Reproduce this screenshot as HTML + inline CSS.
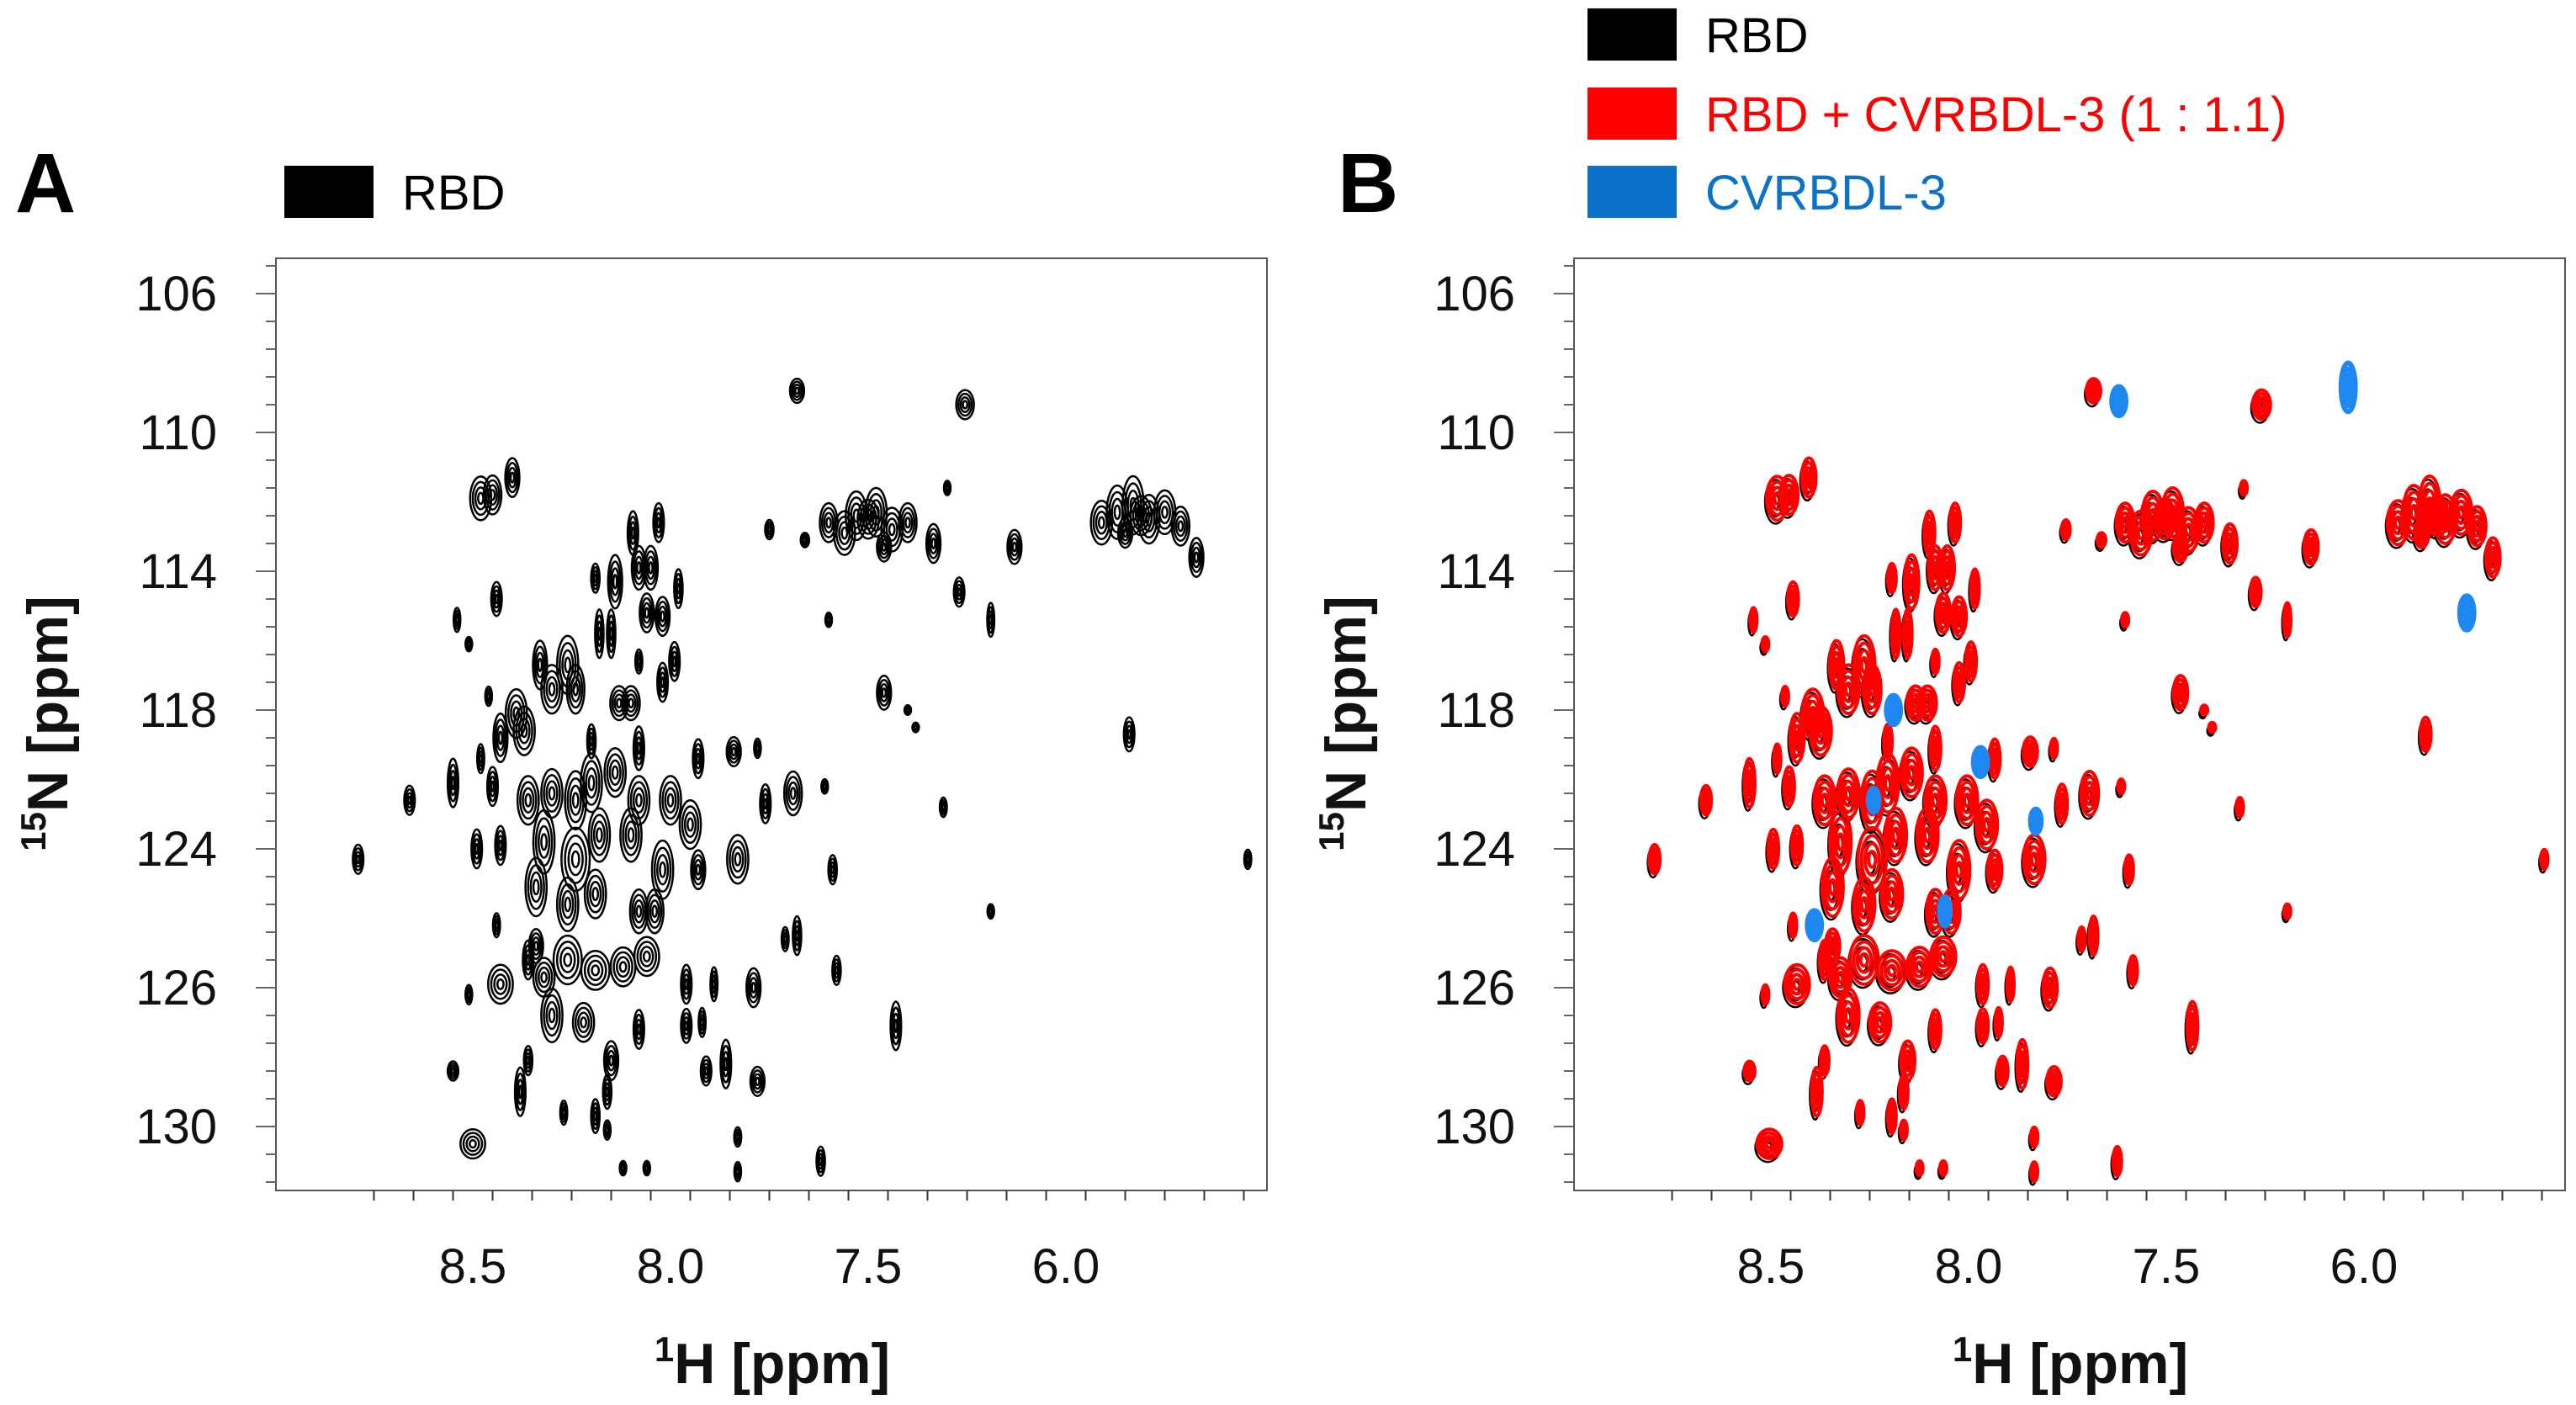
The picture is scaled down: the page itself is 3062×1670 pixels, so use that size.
<!DOCTYPE html>
<html><head><meta charset="utf-8"><style>
html,body{margin:0;padding:0;background:#fff;}
svg{display:block;font-family:"Liberation Sans",sans-serif;}
</style></head><body>
<svg id="chart" width="3062" height="1670" viewBox="0 0 3062 1670" xmlns="http://www.w3.org/2000/svg">
<g id="static"></g>
<g id="panelA"></g>
<g id="panelB"></g>
</svg>
<script>
// ---- data ----
const peakH = [7.68,7.255,7.5,6.81,6.67,7.335,7.13,7.75,7.66,7.27,7.19,7.6,7.3,7.46,7.4,7.38,6.84,7.31,7.19,6.54,8.79,
8.48,8.45,8.40,8.095,8.03,8.19,8.14,8.08,8.05,7.98,8.44,8.54,8.51,8.18,8.15,8.06,8.02,8.33,8.26,8.24,8.30,8.08,7.99,8.02,8.13,8.10,
8.46,8.39,8.43,8.37,8.20,8.08,7.93,7.84,7.78,8.48,8.55,8.45,8.66,
8.36,8.30,8.24,8.20,8.14,8.08,8.00,7.95,8.32,8.24,8.18,8.10,8.02,8.34,8.26,8.19,8.08,8.04,7.93,
7.76,7.69,7.61,7.83,7.59,8.49,8.43,8.44,8.51,8.43,7.68,7.71,
8.32,8.26,8.19,8.12,8.06,8.34,8.36,7.96,7.89,7.79,7.58,
8.30,8.22,8.08,7.96,7.92,7.43,8.36,8.15,7.91,7.86,8.55,7.78,8.38,8.16,8.27,8.19,8.16,8.50,7.83,7.62,8.06,8.12,7.83,
7.60,7.56,7.53,7.48,7.44,7.40,7.46,6.91,6.87,6.83,6.79,6.75,6.71,6.85];
const peakN = [108.8,109.2,112.5,112.4,113.6,113.2,113.3,112.8,113.1,114.6,115.4,115.4,111.6,117.5,118.0,118.5,118.7,120.8,123.8,122.3,122.3,
111.9,111.8,111.3,112.9,112.6,114.2,114.3,113.9,113.9,114.5,114.8,115.4,116.1,115.8,115.8,115.2,115.3,116.7,116.7,117.4,117.4,116.6,116.6,117.2,117.8,117.8,
117.6,118.1,118.8,118.6,118.9,119.1,119.4,119.2,119.1,119.4,120.1,120.2,120.6,
120.6,120.4,120.6,120.1,119.8,120.6,120.6,121.3,121.8,122.3,121.6,121.6,122.6,123.1,123.6,123.3,123.8,123.8,122.6,
120.7,120.4,120.2,122.3,122.6,122.0,121.9,124.2,126.2,125.9,124.5,124.6,
125.7,125.2,125.5,125.4,125.1,124.8,125.2,125.9,125.9,126.0,125.5,
126.8,127.0,127.2,127.1,127.0,127.1,128.1,128.1,128.4,128.2,128.4,128.7,129.0,129.0,129.6,129.7,130.1,130.5,130.3,131.0,131.2,131.2,131.3,
112.6,112.9,112.4,112.3,112.8,112.6,113.3,112.6,112.3,112.1,112.5,112.3,112.7,112.9];
const peakW = [0.02,0.025,0.03,0.03,0.02,0.02,0.02,0.012,0.012,0.015,0.01,0.008,0.005,0.02,0.004,0.004,0.015,0.01,0.005,0.01,0.015,
0.03,0.025,0.02,0.015,0.015,0.012,0.02,0.02,0.02,0.012,0.015,0.008,0.006,0.012,0.012,0.02,0.02,0.02,0.03,0.025,0.03,0.01,0.015,0.015,0.025,0.025,
0.008,0.03,0.02,0.03,0.012,0.015,0.015,0.02,0.008,0.01,0.015,0.015,0.015,
0.03,0.03,0.03,0.03,0.03,0.03,0.03,0.03,0.03,0.04,0.03,0.03,0.03,0.03,0.03,0.03,0.025,0.025,0.02,
0.015,0.025,0.008,0.03,0.012,0.015,0.015,0.01,0.008,0.035,0.012,0.01,
0.03,0.04,0.04,0.035,0.035,0.02,0.015,0.015,0.01,0.02,0.012,
0.03,0.03,0.015,0.015,0.01,0.015,0.012,0.02,0.015,0.015,0.015,0.02,0.015,0.012,0.01,0.012,0.008,0.035,0.01,0.012,0.008,0.006,0.008,
0.025,0.03,0.03,0.03,0.03,0.025,0.02,0.03,0.03,0.03,0.03,0.03,0.025,0.02];
const peakHt = [0.5,0.6,0.8,0.8,0.8,0.8,0.7,0.4,0.3,0.6,0.7,0.3,0.3,0.7,0.2,0.2,0.7,0.4,0.3,0.4,0.6,
0.9,0.8,0.8,0.9,0.8,0.6,1.1,0.9,0.9,0.8,0.7,0.5,0.3,1.0,1.0,0.8,0.8,1.0,1.2,1.0,1.0,0.5,0.8,0.8,0.7,0.7,
0.4,1.0,1.0,1.0,0.7,0.9,0.8,0.6,0.4,0.6,1.0,0.8,0.6,
1.0,1.0,1.2,1.2,1.0,1.0,1.0,1.0,1.3,1.3,1.1,1.1,1.2,1.2,1.1,1.0,0.9,0.9,0.8,
0.8,0.9,0.3,1.0,0.6,0.8,0.8,0.5,0.4,0.8,0.8,0.5,
0.8,1.0,0.8,0.8,0.8,0.7,0.8,0.8,0.7,0.8,0.6,
1.1,0.8,0.8,0.7,0.6,1.0,0.6,0.8,0.6,1.0,0.4,0.6,1.0,0.7,0.5,0.7,0.4,0.6,0.4,0.6,0.3,0.3,0.4,
0.8,0.9,1.0,1.0,0.9,0.8,0.6,0.9,1.1,1.2,1.0,0.9,0.8,0.6];
// complex (RBD + CVRBDL-3): chemical shift offsets for the red spectrum
const redShiftH = peakH.map(()=>0.004);
const blueH = [7.62,7.04,6.74,8.19,7.97,7.83,8.24,8.39,8.06];
const blueN = [109.1,108.7,115.2,118.0,119.5,121.2,120.6,124.2,123.8];
const blueW = [0.02,0.02,0.02,0.02,0.02,0.015,0.015,0.02,0.015];
const blueHt = [0.6,1.0,0.7,0.6,0.6,0.5,0.5,0.6,0.6];
const xTickVals = [8.5,8.0,7.5,7.0];
const xTickLabels = ["8.5","8.0","7.5","6.0"];
const yTickVals = [106,110,114,118,122,126,130];
const yTickLabels = ["106","110","114","118","124","126","130"];
// ---- layout ----
const NS="http://www.w3.org/2000/svg";
const BOX={x:328,y:307,w:1178,h:1108};
function xScale(H,ox){return ox+562+(8.5-H)*470;}
function yScale(N){return 349+(N-106)*41.25;}
function mk(tag,attrs,parent){const e=document.createElementNS(NS,tag);for(const k in attrs)e.setAttribute(k,attrs[k]);parent.appendChild(e);return e;}
function peak(g,H,N,w,h,ox,color,sw,rings){
  const cx=xScale(H,ox),cy=yScale(N),rx=Math.max(4,w*420),ry=Math.max(5,h*41.25*0.7);
  const pg=mk('g',{},g);
  
  
  for(let k=0;k<rings;k++){const s=1-k/rings;
    mk('ellipse',{cx:cx,cy:cy,rx:Math.max(1.5,rx*s),ry:Math.max(2,ry*s),fill:'none',stroke:color,'stroke-width':sw},pg);}
}
function axes(g,ox){
  const r=mk('rect',{x:BOX.x+ox,y:BOX.y,width:BOX.w,height:BOX.h,fill:'none',stroke:'#555','stroke-width':2},g);
  
  for(let v=105.2;v<=131.6;v+=0.8){const y=yScale(v);const maj=yTickVals.some(t=>Math.abs(t-v)<0.05);
    mk('line',{x1:BOX.x+ox-(maj?24:12),x2:BOX.x+ox,y1:y,y2:y,stroke:'#666','stroke-width':2},g);}
  for(let v=8.75;v>=6.0;v-=0.1){const x=xScale(v,ox);if(x<BOX.x+ox||x>BOX.x+ox+BOX.w)continue;const maj=xTickVals.some(t=>Math.abs(t-v)<0.01);
    mk('line',{x1:x,x2:x,y1:BOX.y+BOX.h,y2:BOX.y+BOX.h+(maj?18:12),stroke:'#333','stroke-width':2},g);}
  yTickVals.forEach((v,i)=>{const t=mk('text',{x:BOX.x+ox-70,y:yScale(v)+20,'text-anchor':'end','font-size':58,fill:'#111'},g);t.textContent=yTickLabels[i];
    });
  xTickVals.forEach((v,i)=>{const t=mk('text',{x:xScale(v,ox),y:1525,'text-anchor':'middle','font-size':58,fill:'#111'},g);t.textContent=xTickLabels[i];
    });
  const xt=mk('text',{x:ox+918,y:1644,'text-anchor':'middle','font-size':68,'font-weight':'bold',fill:'#111'},g);
  xt.innerHTML='<tspan font-size="42" dy="-26">1</tspan><tspan dy="26">H  [ppm]</tspan>';
  
  const yt=mk('text',{x:0,y:0,transform:`translate(${ox+80},860) rotate(-90)`,'text-anchor':'middle','font-size':68,'font-weight':'bold',fill:'#111'},g);
  yt.innerHTML='<tspan font-size="42" dy="-26">15</tspan><tspan dy="26">N [ppm]</tspan>';
  
}
const A=document.getElementById('panelA'),B=document.getElementById('panelB'),S=document.getElementById('static');
axes(A,0);axes(B,1543);
for(let i=0;i<peakH.length;i++) peak(A,peakH[i],peakN[i],peakW[i],peakHt[i],0,'#000',2.5,4);
for(let i=0;i<peakH.length;i++) peak(B,peakH[i]+0.008,peakN[i]+0.1,peakW[i],peakHt[i],1543,'#000',2.5,3);
for(let i=0;i<peakH.length;i++) peak(B,peakH[i]+redShiftH[i],peakN[i],peakW[i],peakHt[i],1543,'#f00',4,4);
for(let i=0;i<blueH.length;i++) peak(B,blueH[i],blueN[i],blueW[i],blueHt[i],1543,'#1e88f0',6,4);
// labels & legends
function txt(x,y,s,attrs,name){const t=mk('text',Object.assign({x:x,y:y},attrs),S);t.textContent=s;
  return t;}
txt(18,252,'A',{'font-size':100,'font-weight':'bold',fill:'#000'},'panel-a-label');
txt(1590,252,'B',{'font-size':100,'font-weight':'bold',fill:'#000'},'panel-b-label');
function leg(x,y,color,label,tc){const r=mk('rect',{x:x,y:y,width:106,height:62,fill:color},S);
  
  txt(x+140,y+52,label,{'font-size':58,fill:tc},'legend-entry');}
leg(338,197,'#000','RBD','#000');
leg(1887,10,'#000','RBD','#000');
leg(1887,104,'#f00','RBD + CVRBDL-3 (1 : 1.1)','#f00');
leg(1887,197,'#0a72c8','CVRBDL-3','#0a72c8');
</script>
</body></html>
